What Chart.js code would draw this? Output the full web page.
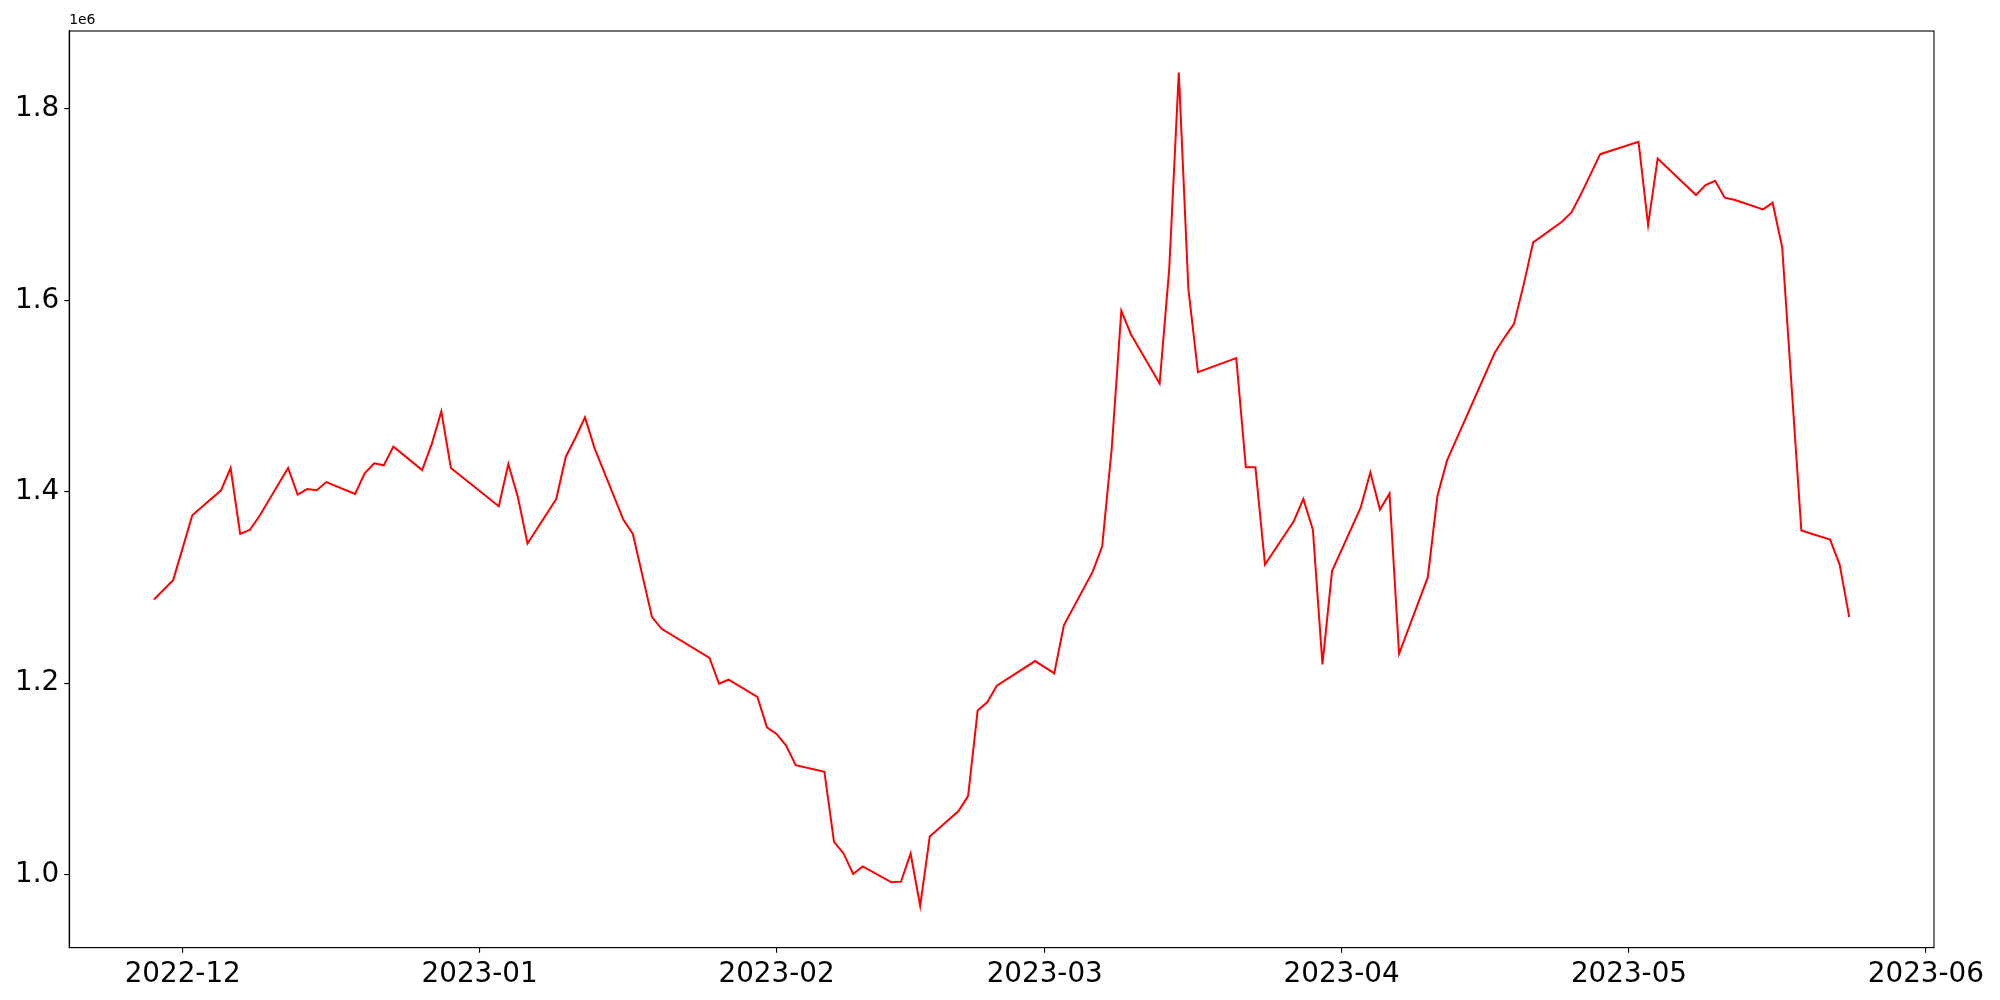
<!DOCTYPE html>
<html>
<head>
<meta charset="utf-8">
<script src="https://cdn.jsdelivr.net/npm/chart.js@4.4.0/dist/chart.umd.min.js"></script>
<style>
  body { margin: 0; background: #fff; }
  canvas { display: block; }
</style>
</head>
<body>
<canvas id="chartCanvasLine" width="2000" height="1000"></canvas>
<script>
const dates = [
  "2022-11-28", "2022-11-30", "2022-12-01", "2022-12-02", "2022-12-05", "2022-12-06", "2022-12-07",
  "2022-12-08", "2022-12-09", "2022-12-12", "2022-12-13", "2022-12-14", "2022-12-15", "2022-12-16",
  "2022-12-19", "2022-12-20", "2022-12-21", "2022-12-22", "2022-12-23", "2022-12-26", "2022-12-27",
  "2022-12-28", "2022-12-29", "2023-01-03", "2023-01-04", "2023-01-05", "2023-01-06", "2023-01-09",
  "2023-01-10", "2023-01-11", "2023-01-12", "2023-01-13", "2023-01-16", "2023-01-17", "2023-01-19",
  "2023-01-20", "2023-01-25", "2023-01-26", "2023-01-27", "2023-01-30", "2023-01-31", "2023-02-01",
  "2023-02-02", "2023-02-03", "2023-02-06", "2023-02-07", "2023-02-08", "2023-02-09", "2023-02-10",
  "2023-02-13", "2023-02-14", "2023-02-15", "2023-02-16", "2023-02-17", "2023-02-20", "2023-02-21",
  "2023-02-22", "2023-02-23", "2023-02-24", "2023-02-28", "2023-03-02", "2023-03-03", "2023-03-06",
  "2023-03-07", "2023-03-08", "2023-03-09", "2023-03-10", "2023-03-13", "2023-03-14", "2023-03-15",
  "2023-03-16", "2023-03-17", "2023-03-21", "2023-03-22", "2023-03-23", "2023-03-24", "2023-03-27",
  "2023-03-28", "2023-03-29", "2023-03-30", "2023-03-31", "2023-04-03", "2023-04-04", "2023-04-05",
  "2023-04-06", "2023-04-07", "2023-04-10", "2023-04-11", "2023-04-12", "2023-04-17", "2023-04-18",
  "2023-04-19", "2023-04-20", "2023-04-21", "2023-04-24", "2023-04-25", "2023-04-26", "2023-04-27",
  "2023-04-28", "2023-05-02", "2023-05-03", "2023-05-04", "2023-05-08", "2023-05-09", "2023-05-10",
  "2023-05-11", "2023-05-12", "2023-05-15", "2023-05-16", "2023-05-17", "2023-05-19", "2023-05-22",
  "2023-05-23", "2023-05-24"
];

const values = [
  1287400, 1307600, 1341300, 1375400, 1401500, 1424800, 1355900,
  1360000, 1374300, 1424800, 1397000, 1402800, 1401500, 1410100,
  1397600, 1419200, 1429700, 1427600, 1447100, 1422700, 1449800,
  1483900, 1424800, 1384800, 1428900, 1394200, 1345900, 1392400,
  1436600, 1456100, 1477700, 1445600, 1370900, 1355900, 1268900,
  1256700, 1226200, 1199300, 1203500, 1185600, 1153800, 1146800,
  1134600, 1114200, 1107200, 1034100, 1021900, 1000400, 1008300,
  991700, 992400, 1021900, 967000, 1039700, 1066200, 1081800,
  1171200, 1179900, 1197200, 1223000, 1210200, 1260300, 1316200,
  1343000, 1445600, 1589000, 1564600, 1513200, 1632700, 1838000,
  1612000, 1524900, 1539600, 1425500, 1425500, 1323900, 1369100,
  1392400, 1360400, 1219600, 1317000, 1383700, 1420300, 1381300,
  1398000, 1230600, 1310700, 1395200, 1432500, 1545500, 1561100,
  1575400, 1616200, 1660600, 1682200, 1691900, 1711100, 1732000,
  1752800, 1765700, 1678800, 1748300, 1710100, 1720500, 1725000,
  1707300, 1705200, 1695100, 1702000, 1655400, 1359400, 1350000,
  1323900, 1268900
];

const xTickMonths = ["2022-12-01", "2023-01-01", "2023-02-01", "2023-03-01", "2023-04-01", "2023-05-01", "2023-06-01"];
const yTickValues = [1000000, 1200000, 1400000, 1600000, 1800000];

const toTime = s => {
  const [y, m, d] = s.split("-").map(Number);
  return Date.UTC(y, m - 1, d);
};

const points = dates.map((d, i) => ({ x: toTime(d), y: values[i] }));
const xFirst = toTime(dates[0]);
const xLast = toTime(dates[dates.length - 1]);
const xPad = (xLast - xFirst) * 0.05;
const yMin = Math.min(...values);
const yMax = Math.max(...values);
const yPad = (yMax - yMin) * 0.05;

const tickFont = { family: "DejaVu Sans", size: 27.8 };

// frame on all four sides plus the matplotlib style offset label
const framePlugin = {
  id: "frame",
  afterDraw(chart) {
    const { ctx, chartArea } = chart;
    ctx.save();
    ctx.strokeStyle = "#000";
    ctx.lineWidth = 1.1;
    ctx.strokeRect(chartArea.left, chartArea.top, chartArea.right - chartArea.left, chartArea.bottom - chartArea.top);
    ctx.fillStyle = "#000";
    ctx.font = "13.9px 'DejaVu Sans'";
    ctx.textAlign = "left";
    ctx.textBaseline = "bottom";
    ctx.fillText("1e6", chartArea.left, chartArea.top - 4);
    ctx.restore();
  }
};

new Chart(document.getElementById("chartCanvasLine"), {
  type: "line",
  data: {
    datasets: [{
      data: points,
      borderColor: "#ff0000",
      borderWidth: 2,
      pointRadius: 0,
      tension: 0,
      fill: false
    }]
  },
  options: {
    responsive: false,
    animation: false,
    layout: { padding: { left: 10, right: 66, top: 31, bottom: 4 } },
    plugins: {
      legend: { display: false },
      tooltip: { enabled: false }
    },
    scales: {
      x: {
        type: "linear",
        min: xFirst - xPad,
        max: xLast + xPad,
        afterBuildTicks: scale => {
          scale.ticks = xTickMonths.map(m => ({ value: toTime(m) }));
        },
        ticks: {
          autoSkip: false,
          maxRotation: 0,
          color: "#000",
          font: tickFont,
          padding: 5,
          callback: v => {
            const d = new Date(v);
            return d.getUTCFullYear() + "-" + String(d.getUTCMonth() + 1).padStart(2, "0");
          }
        },
        grid: { drawOnChartArea: false, drawTicks: true, tickLength: 5, color: "#000", lineWidth: 1.1 },
        border: { display: true, color: "#000", width: 1.1 }
      },
      y: {
        type: "linear",
        min: yMin - yPad,
        max: yMax + yPad,
        afterBuildTicks: scale => {
          scale.ticks = yTickValues.map(v => ({ value: v }));
        },
        ticks: {
          color: "#000",
          font: tickFont,
          padding: 5,
          callback: v => (v / 1e6).toFixed(1)
        },
        grid: { drawOnChartArea: false, drawTicks: true, tickLength: 5, color: "#000", lineWidth: 1.1 },
        border: { display: true, color: "#000", width: 1.1 }
      }
    }
  },
  plugins: [framePlugin]
});
</script>
</body>
</html>
